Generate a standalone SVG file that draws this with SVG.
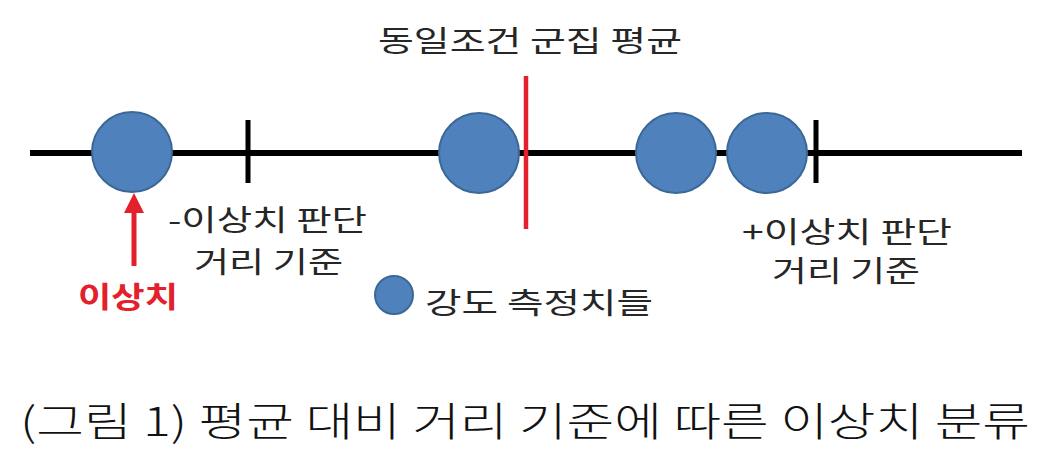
<svg xmlns="http://www.w3.org/2000/svg" width="1057" height="451" viewBox="0 0 1057 451">
<defs>
<style>
.pt{fill:#4f81bd;stroke:#3c6896;stroke-width:2}
.lbl{font-family:"Noto Sans CJK KR","Noto Sans",sans-serif;font-size:29px;fill:#262626}
.red{font-family:"Noto Sans CJK KR","Noto Sans",sans-serif;font-size:29px;font-weight:bold;fill:#e3202b}
.cap{font-family:"Noto Sans CJK KR","Liberation Serif",serif;font-size:40px;font-weight:300;fill:#111}
</style>
<marker id="ah" markerWidth="4" markerHeight="4" refX="0" refY="2" orient="auto" markerUnits="strokeWidth">
<path d="M0,0 L4,2 L0,4 Z" fill="#e3202b"/>
</marker>
</defs>
<rect width="1057" height="451" fill="#fff"/>
<g id="connectors">
<line id="axis" x1="30" y1="153" x2="1022" y2="153" stroke="#000" stroke-width="6"/>
<line id="tick-minus" x1="248" y1="120" x2="248" y2="183" stroke="#000" stroke-width="5"/>
<line id="tick-plus" x1="816" y1="120" x2="816" y2="183" stroke="#000" stroke-width="5"/>
<line id="arrow" x1="134" y1="266" x2="134" y2="213" stroke="#e3202b" stroke-width="5" marker-end="url(#ah)"/>
</g>
<g id="p1"><circle class="pt" cx="132" cy="152" r="40"/></g>
<g id="p2"><circle class="pt" cx="479" cy="153" r="40"/></g>
<g id="p3"><circle class="pt" cx="676" cy="153" r="40"/></g>
<g id="p4"><circle class="pt" cx="767" cy="153" r="40"/></g>
<g id="mean"><line x1="526" y1="76" x2="526" y2="229" stroke="#e3202b" stroke-width="4.5"/>
<text class="lbl" x="378" y="52" textLength="304" lengthAdjust="spacingAndGlyphs">동일조건 군집 평균</text></g>
<g id="minus-label">
<text class="lbl" x="168" y="231" textLength="199" lengthAdjust="spacingAndGlyphs">-이상치 판단</text>
<text class="lbl" x="194" y="273" textLength="149" lengthAdjust="spacingAndGlyphs">거리 기준</text>
</g>
<g id="plus-label">
<text class="lbl" x="742" y="243" textLength="210" lengthAdjust="spacingAndGlyphs">+이상치 판단</text>
<text class="lbl" x="772" y="282" textLength="148" lengthAdjust="spacingAndGlyphs">거리 기준</text>
</g>
<g id="outlier"><text class="red" x="78" y="308" textLength="100" lengthAdjust="spacingAndGlyphs">이상치</text></g>
<g id="legend">
<circle class="pt" cx="394" cy="295" r="19"/>
<text class="lbl" x="425" y="314" textLength="228" lengthAdjust="spacingAndGlyphs">강도 측정치들</text>
</g>
<g id="caption"><text class="cap" x="20" y="436" textLength="1010" lengthAdjust="spacingAndGlyphs">(그림 1) 평균 대비 거리 기준에 따른 이상치 분류</text></g>
</svg>
